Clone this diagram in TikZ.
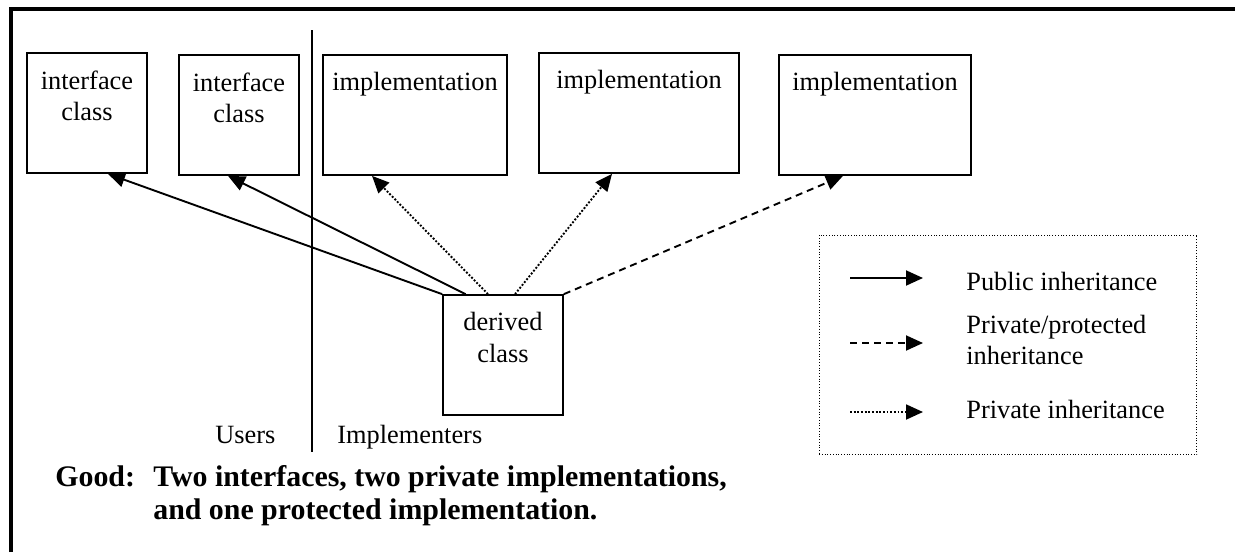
\documentclass[tikz,border=0pt]{standalone}
\usepackage{fontspec}
\setmainfont{Liberation Serif}
\usetikzlibrary{arrows.meta}

\begin{document}
\begin{tikzpicture}
	[%%%%%%%%%%%%%%%%%%%%%%%%%%%%%%
	x=0.02cm, y=-0.02cm,
	box/.style={rectangle,draw=black,line width=0.035cm, minimum height=2.4cm, inner sep=0pt},
	boxtext/.style={anchor=north, align=center, inner sep=0pt, font=\fontsize{15}{18}\selectfont},
	plain/.style={inner sep=0pt, font=\fontsize{15}{18}\selectfont},
	good/.style={anchor=base west, inner sep=0pt, font=\fontsize{17}{19}\selectfont\bfseries},
	pub/.style={line width=0.038cm, -{Triangle[length=0.34cm,width=0.3cm]}},
	priv/.style={pub, densely dotted},
	prot/.style={pub, dash pattern=on 0.14cm off 0.1cm},
	]%%%%%%%%%%%%%%%%%%%%%%%%%%%%%%
	
	\useasboundingbox (0,0) rectangle (1235,552);
	\draw[line width=0.075cm] (11.3,552) -- (11.3,9) -- (1235,9);
	
	% classes
	\node[box, minimum width=2.4cm] (ic1) at (87,113){};
	\node[box, minimum width=2.4cm] (ic2) at (239,115){};
	\node[box, minimum width=3.68cm] (im1) at (415,115){};
	\node[box, minimum width=4cm] (im2) at (639,113){};
	\node[box, minimum width=3.84cm] (im3) at (875,115){};
	\node[box, minimum width=2.4cm] (der) at (503,355){};
	
	\node[boxtext] at ([yshift=-0.36cm]ic1.north) {interface\\class};
	\node[boxtext] at ([yshift=-0.36cm]ic2.north) {interface\\class};
	\node[boxtext] at ([yshift=-0.36cm]im1.north) {implementation};
	\node[boxtext] at ([yshift=-0.36cm]im2.north) {implementation};
	\node[boxtext] at ([yshift=-0.36cm]im3.north) {implementation};
	\node[boxtext] at ([yshift=-0.36cm]der.north) {derived\\class};
	
	% inheritance
	\draw[pub] (der.north west) -- ([xshift=0.42cm]ic1.south);
	\draw[pub] ([xshift=0.47cm]der.north west) -- ([xshift=-0.22cm]ic2.south);
	\draw[priv] ([xshift=-0.3cm]der.north) -- ([xshift=-0.86cm]im1.south);
	\draw[priv] ([xshift=0.24cm]der.north) -- ([xshift=-0.54cm]im2.south);
	\draw[prot] (der.north east) -- ([xshift=-0.64cm]im3.south);
	
	% users / implementers
	\coordinate (divtop) at (312,30);
	\coordinate (divbot) at (312,452);
	\draw[line width=0.05cm] (divtop) -- (divbot);
	\node[plain, anchor=base west] (users) at (215,443) {Users};
	\node[plain, anchor=base west] (impl) at (337,443) {Implementers};
	
	% legend
	\node[draw, densely dotted, line width=0.02cm, minimum width=7.56cm, minimum height=4.4cm] (legend) at (1008,345){};
	\coordinate (pubA) at (850,278);
	\coordinate (pubB) at (923,278);
	\coordinate (protA) at (850,343);
	\coordinate (protB) at (923,343);
	\coordinate (privA) at (850,412);
	\coordinate (privB) at (923,412);
	\draw[pub] (pubA) -- (pubB);
	\draw[prot] (protA) -- (protB);
	\draw[priv] (privA) -- (privB);
	\node[plain, anchor=base west] (pubtxt) at (966,290) {Public inheritance};
	\node[plain, anchor=west, align=left] (prottxt) at (966,340) {Private/protected\\inheritance};
	\node[plain, anchor=base west] (privtxt) at (966,418) {Private inheritance};
	
	% caption
	\node[good] (good) at (55,486) {Good:};
	\node[good] (cap1) at (153,486) {Two interfaces, two private implementations,};
	\node[good] (cap2) at (153,519) {and one protected implementation.};
\end{tikzpicture}
\end{document}
